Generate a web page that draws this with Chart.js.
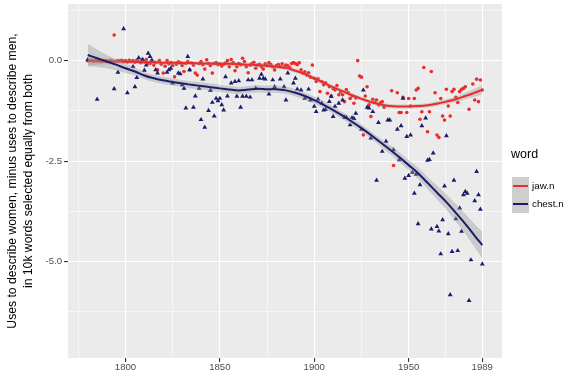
<!DOCTYPE html>
<html>
<head>
<meta charset="utf-8">
<script src="https://cdn.jsdelivr.net/npm/chart.js@4.4.1/dist/chart.umd.min.js"></script>
<style>
  html, body { margin: 0; padding: 0; background: #fff; }
  #wrap { position: relative; width: 580px; height: 389px; }
</style>
</head>
<body>
<div id="wrap"><canvas id="chart" width="580" height="389"></canvas></div>
<script>
// jaw.n points (year, score)
const jawYears = [1780,1781,1782,1783,1784,1785,1786,1787,1788,1789,1790,1791,1792,1793,1794,1795,1796,1797,1798,1799,
  1800,1801,1802,1803,1804,1805,1806,1807,1808,1809,1810,1811,1812,1813,1814,1815,1816,1817,1818,1819,
  1820,1821,1822,1823,1824,1825,1826,1827,1828,1829,1830,1831,1832,1833,1834,1835,1836,1837,1838,1839,
  1840,1841,1842,1843,1844,1845,1846,1847,1848,1849,1850,1851,1852,1853,1854,1855,1856,1857,1858,1859,
  1860,1861,1862,1863,1864,1865,1866,1867,1868,1869,1870,1871,1872,1873,1874,1875,1876,1877,1878,1879,
  1880,1881,1882,1883,1884,1885,1886,1887,1888,1889,1890,1891,1892,1893,1894,1895,1896,1897,1898,1899,
  1900,1901,1902,1903,1904,1905,1906,1907,1908,1909,1910,1911,1912,1913,1914,1915,1916,1917,1918,1919,
  1920,1921,1922,1923,1924,1925,1926,1927,1928,1929,1930,1931,1932,1933,1934,1935,1936,1937,
  1941,1942,1944,1945,1946,1947,1949,1950,1951,1953,1954,1955,1956,1957,1958,1960,1961,1962,1964,
  1965,1966,1967,1968,1969,1970,1971,1972,1973,1974,1975,1976,1977,1978,1979,1980,1982,1984,1985,1986,1987,1988,1989];
const jawValues = [0.0,-0.01,0.01,-0.02,0.0,-0.01,0.01,-0.02,0.0,-0.01,0.0,-0.02,0.01,-0.01,0.64,-0.02,0.0,-0.01,0.01,-0.02,
  0.0,-0.03,0.01,-0.02,0.0,-0.04,0.01,-0.02,-0.05,0.02,-0.03,0.03,-0.06,-0.07,0.0,-0.11,-0.04,-0.23,0.0,-0.09,
  -0.31,-0.14,0.0,-0.08,-0.05,-0.12,-0.40,-0.09,-0.03,-0.05,-0.12,-0.27,-0.07,-0.02,-0.23,-0.06,-0.11,-0.31,-0.36,-0.07,
  -0.02,-0.10,-0.21,0.02,-0.07,-0.12,-0.31,-0.07,-0.05,-0.10,-0.08,-0.13,-0.09,-0.06,0.0,-0.15,0.03,-0.05,-0.25,-0.15,
  -0.07,-0.10,0.06,-0.02,-0.15,-0.30,-0.11,-0.07,-0.04,-0.19,-0.11,-0.09,-0.15,-0.21,-0.08,-0.12,-0.05,-0.10,-0.15,-0.23,
  -0.12,-0.10,-0.15,-0.08,-0.16,-0.11,-0.13,-0.17,-0.07,-0.05,-0.07,-0.10,-0.05,-0.23,-0.31,-0.28,-0.36,-0.30,-0.41,-0.11,
  -0.44,-0.52,-0.45,-0.77,-0.52,-0.60,-0.55,-0.81,-0.65,-0.89,-0.70,-0.73,-0.62,-0.85,-0.78,-0.85,-1.02,-0.72,-0.80,-0.94,
  -0.88,-1.06,-0.93,0.0,-0.38,-0.41,-1.85,-0.88,-0.65,-1.10,-1.39,-0.96,-1.04,-0.98,-1.10,-1.05,-1.02,-1.16,
  -0.75,-2.61,-0.80,-1.29,-1.29,-0.91,-1.29,-0.94,-1.13,-0.94,-0.73,-0.69,-1.46,-1.27,-0.17,-1.77,-1.27,-0.27,-0.80,
  -1.85,-1.91,-0.94,-1.38,-1.48,-0.71,-1.13,-1.38,-0.77,-0.71,-0.91,-1.04,-0.77,-0.71,-0.69,-0.65,-1.21,-0.58,-0.98,-0.46,-1.02,-0.48,-0.73];

// chest.n points (year, score)
const chestYears = [1780,1785,1794,1796,1799,1801,1804,1805,1806,1807,1809,1810,1811,1812,1813,1814,1816,1817,1822,1823,
  1824,1825,1828,1829,1830,1831,1832,1833,1834,1836,1837,1839,1840,1841,1842,1844,1845,1846,1847,1848,
  1849,1850,1851,1852,1853,1854,1856,1858,1859,1860,1861,1862,1864,1865,1866,1867,1869,1871,1872,1873,
  1874,1876,1878,1879,1882,1884,1885,1886,1889,1890,1891,1893,1895,1897,1898,1900,1901,1902,1904,1905,
  1906,1908,1909,1910,1911,1913,1915,1916,1917,1919,1920,1921,1922,1925,1926,1928,1929,1930,1931,1933,
  1934,1936,1938,1939,1940,1942,1944,1945,1946,1947,1948,1949,1950,1951,1952,1953,1954,1955,1956,1957,
  1959,1960,1961,1962,1963,1965,1966,1967,1968,1969,1970,1971,1972,1973,1974,1975,1976,1977,1978,1979,
  1980,1981,1982,1983,1985,1986,1987,1988,1989];
const chestValues = [0.02,-0.96,-0.70,-0.29,0.79,-0.80,-0.15,-0.65,-0.42,0.07,0.03,-0.24,-0.11,0.18,0.10,0.01,-0.23,-0.31,-0.29,-0.23,
  -0.19,-0.56,-0.31,-0.33,-0.60,-0.69,-1.18,0.10,-0.23,-1.16,-0.88,-0.69,-1.47,-0.46,-1.66,-1.24,-0.74,-1.04,-1.38,-0.94,
  -1.00,-0.94,-1.10,-1.23,-0.40,-0.88,-0.56,-0.52,-0.89,-0.50,-1.16,-0.89,-0.89,-0.48,-0.91,-0.48,-0.69,-0.44,-0.34,-0.44,
  -0.46,-0.83,-0.48,-0.65,-0.46,-0.65,-0.98,-0.31,-0.56,-0.44,-0.71,-0.73,-0.94,-0.71,-0.98,-1.14,-1.27,-0.96,-1.06,-1.23,
  -1.21,-1.02,-0.89,-1.39,-1.14,-1.06,-0.98,-1.41,-1.41,-1.60,-1.42,-1.44,-1.31,-1.71,-0.73,-1.16,-1.18,-1.93,-1.27,-2.98,
  -1.54,-2.26,-2.01,-1.48,-1.48,-2.22,-1.71,-2.47,-1.62,-0.94,-2.93,-1.89,-2.86,-1.85,-2.78,-3.30,-2.83,-4.06,-3.09,-1.62,
  -1.43,-2.48,-2.46,-4.19,-2.30,-4.13,-4.24,-4.81,-3.96,-3.12,-1.87,-4.31,-5.83,-4.75,-2.98,-3.94,-4.73,-3.67,-4.25,-3.34,
  -3.26,-3.30,-5.97,-4.96,-3.49,-2.76,-3.34,-3.70,-5.06];

// loess fits and standard-error half widths
const fitYears = [1780,1785,1790,1795,1800,1805,1810,1815,1820,1825,1830,1835,1840,1845,1850,1855,1860,1865,1870,1875,
  1880,1885,1890,1895,1900,1905,1910,1915,1920,1925,1930,1935,1940,1945,1950,1955,1960,1965,1970,1975,1980,1985,1989];
const jawFit = [0.0,-0.01,-0.02,-0.02,-0.03,-0.03,-0.04,-0.04,-0.05,-0.05,-0.06,-0.06,-0.07,-0.07,-0.08,-0.08,-0.09,-0.10,-0.11,-0.13,
  -0.15,-0.18,-0.25,-0.33,-0.44,-0.55,-0.66,-0.76,-0.86,-0.95,-1.03,-1.09,-1.13,-1.14,-1.14,-1.13,-1.11,-1.07,-1.02,-0.96,-0.88,-0.80,-0.72];
const jawSe = [0.12,0.09,0.07,0.06,0.05,0.05,0.05,0.05,0.05,0.05,0.05,0.05,0.05,0.05,0.05,0.05,0.05,0.05,0.05,0.05,
  0.05,0.05,0.05,0.05,0.05,0.05,0.05,0.05,0.05,0.05,0.05,0.05,0.05,0.05,0.05,0.05,0.05,0.06,0.06,0.07,0.08,0.10,0.12];
const chestFit = [0.14,0.06,-0.02,-0.10,-0.19,-0.27,-0.37,-0.44,-0.49,-0.53,-0.57,-0.60,-0.63,-0.66,-0.69,-0.72,-0.74,-0.72,-0.70,-0.71,
  -0.71,-0.74,-0.80,-0.88,-0.98,-1.10,-1.23,-1.37,-1.52,-1.68,-1.85,-2.03,-2.21,-2.40,-2.60,-2.80,-3.04,-3.28,-3.52,-3.79,-4.06,-4.36,-4.59];
const chestSe = [0.28,0.22,0.17,0.14,0.12,0.10,0.09,0.09,0.09,0.09,0.09,0.09,0.09,0.09,0.09,0.09,0.09,0.09,0.09,0.09,
  0.09,0.09,0.09,0.09,0.09,0.09,0.09,0.09,0.09,0.09,0.09,0.10,0.11,0.12,0.13,0.14,0.15,0.17,0.19,0.22,0.25,0.29,0.33];

const seriesNames = ['jaw.n', 'chest.n'];
const seriesColors = ['#EC2B2B', '#1C1C6C'];
const xMajor = [1800, 1850, 1900, 1950, 1989];
const xMinor = [1775, 1825, 1875, 1925, 1969.5];
const yMajor = [0, -2.5, -5];
const yMinor = [1.25, -1.25, -3.75, -6.25];

const FONT = '"Liberation Sans", Arial, Helvetica, sans-serif';
const RIBBON = 'rgba(153,153,153,0.4)';

const toPts = (xs, ys) => xs.map((x, i) => ({ x: x, y: ys[i] }));
const band = (fit, se, sign) => fitYears.map((x, i) => ({ x: x, y: fit[i] + sign * se[i] }));

// gray ggplot-like panel behind the grid
const panelBg = {
  id: 'panelBg',
  beforeDraw(chart) {
    const a = chart.chartArea;
    const ctx = chart.ctx;
    ctx.save();
    ctx.fillStyle = '#EBEBEB';
    ctx.fillRect(a.left, a.top, a.right - a.left, a.bottom - a.top);
    ctx.restore();
  }
};

// legend on the right ("word" + keys with ribbon fill)
const wordLegend = {
  id: 'wordLegend',
  afterDraw(chart) {
    const ctx = chart.ctx;
    ctx.save();
    ctx.textBaseline = 'middle';
    ctx.fillStyle = '#000';
    ctx.font = '12.5px ' + FONT;
    ctx.fillText('word', 511, 155);
    seriesNames.forEach((name, i) => {
      const top = 177 + i * 18;
      ctx.fillStyle = '#F2F2F2';
      ctx.fillRect(512, top, 17, 18);
      ctx.fillStyle = RIBBON;
      ctx.fillRect(512, top, 17, 18);
      ctx.strokeStyle = seriesColors[i];
      ctx.lineWidth = 2;
      ctx.beginPath();
      ctx.moveTo(513, top + 9);
      ctx.lineTo(528, top + 9);
      ctx.stroke();
      ctx.fillStyle = '#000';
      ctx.font = '9.8px ' + FONT;
      ctx.fillText(name, 532, top + 9.5);
    });
    ctx.restore();
  }
};

const lineDs = (data, color) => ({
  data: data, borderColor: color, borderWidth: 2, pointRadius: 0, tension: 0.35, fill: false
});
const ribbonDs = (data, fill) => ({
  data: data, borderWidth: 0, borderColor: 'rgba(0,0,0,0)', pointRadius: 0, tension: 0.35,
  fill: fill, backgroundColor: RIBBON
});

new Chart(document.getElementById('chart'), {
  type: 'line',
  data: {
    datasets: [
      lineDs(toPts(fitYears, chestFit), seriesColors[1]),
      ribbonDs(band(chestFit, chestSe, 1), '+1'),
      ribbonDs(band(chestFit, chestSe, -1), false),
      lineDs(toPts(fitYears, jawFit), seriesColors[0]),
      ribbonDs(band(jawFit, jawSe, 1), '+1'),
      ribbonDs(band(jawFit, jawSe, -1), false),
      {
        data: toPts(chestYears, chestValues), showLine: false, pointStyle: 'triangle',
        pointRadius: 2.8, pointBorderWidth: 0, pointBackgroundColor: seriesColors[1]
      },
      {
        data: toPts(jawYears, jawValues), showLine: false, pointStyle: 'circle',
        pointRadius: 1.8, pointBorderWidth: 0, pointBackgroundColor: seriesColors[0]
      }
    ]
  },
  options: {
    responsive: false,
    animation: false,
    devicePixelRatio: 1,
    layout: { padding: { top: 4, right: 78, bottom: 0, left: 0 } },
    plugins: { legend: { display: false }, tooltip: { enabled: false } },
    scales: {
      x: {
        type: 'linear', min: 1769.55, max: 1999.45,
        afterBuildTicks: s => { s.ticks = xMinor.concat(xMajor).sort((a, b) => a - b).map(v => ({ value: v })); },
        afterFit: s => { s.height = 31; s.paddingLeft = 0; s.paddingRight = 0; },
        border: { display: false },
        grid: {
          color: '#FFFFFF',
          lineWidth: c => xMajor.includes(c.tick.value) ? 1.1 : 0.55,
          tickColor: c => xMajor.includes(c.tick.value) ? '#333333' : 'rgba(0,0,0,0)',
          tickLength: 4
        },
        ticks: {
          autoSkip: false, maxRotation: 0, padding: 0, color: '#4D4D4D',
          font: { size: 9.6, family: FONT },
          callback: v => xMajor.includes(v) ? String(v) : ''
        }
      },
      y: {
        type: 'linear', min: -7.40, max: 1.41,
        afterBuildTicks: s => { s.ticks = yMinor.concat(yMajor).sort((a, b) => b - a).map(v => ({ value: v })); },
        afterFit: s => { s.width = 68; s.paddingTop = 0; s.paddingBottom = 0; },
        border: { display: false },
        grid: {
          color: '#FFFFFF',
          lineWidth: c => yMajor.includes(c.tick.value) ? 1.1 : 0.55,
          tickColor: c => yMajor.includes(c.tick.value) ? '#333333' : 'rgba(0,0,0,0)',
          tickLength: 4
        },
        ticks: {
          autoSkip: false, padding: 2, color: '#4D4D4D',
          font: { size: 9.6, family: FONT },
          callback: v => yMajor.includes(v) ? v.toFixed(1) : ''
        },
        title: {
          display: true,
          text: ['Uses to describe women, minus uses to describe men,', 'in 10k words selected equally from both'],
          color: '#000', font: { size: 12.2, family: FONT, lineHeight: 1.3 },
          padding: { top: 4.7, bottom: 0 }
        }
      }
    }
  },
  plugins: [panelBg, wordLegend]
});
</script>
</body>
</html>
